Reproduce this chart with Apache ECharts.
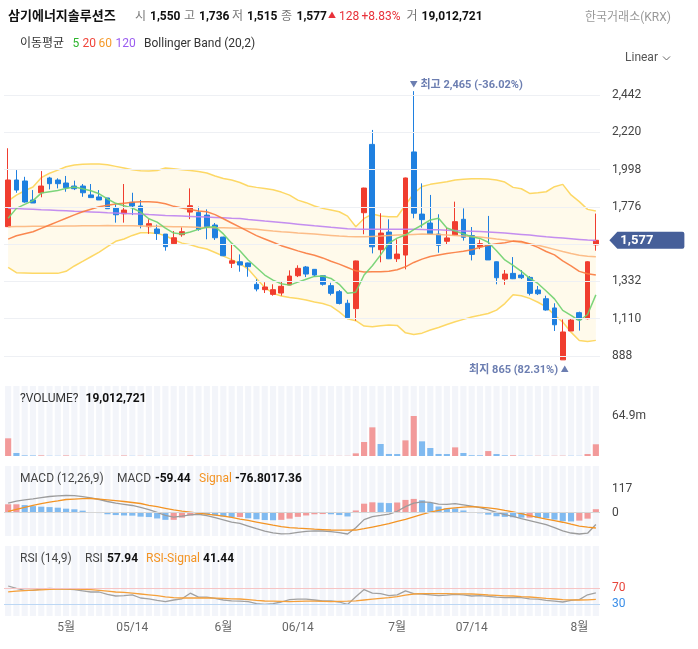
<!DOCTYPE html>
<html><head><meta charset="utf-8">
<script src="https://cdn.jsdelivr.net/npm/echarts@6.0.0/dist/echarts.min.js"></script>
<style>html,body{margin:0;padding:0;background:#fff}#c{width:698px;height:649px}</style>
</head><body><div id="c"></div>
<script>
const dates = ['2021-04-22','2021-04-23','2021-04-26','2021-04-27','2021-04-28','2021-04-29','2021-04-30',
'2021-05-03','2021-05-04','2021-05-06','2021-05-07','2021-05-10','2021-05-11','2021-05-12','2021-05-13','2021-05-14',
'2021-05-17','2021-05-18','2021-05-20','2021-05-21','2021-05-24','2021-05-25','2021-05-26','2021-05-27','2021-05-28','2021-05-31',
'2021-06-01','2021-06-02','2021-06-03','2021-06-04','2021-06-07','2021-06-08','2021-06-09','2021-06-10','2021-06-11','2021-06-14',
'2021-06-15','2021-06-16','2021-06-17','2021-06-18','2021-06-21','2021-06-22','2021-06-23','2021-06-24','2021-06-25','2021-06-28','2021-06-29',
'2021-07-01','2021-07-02','2021-07-05','2021-07-06','2021-07-07','2021-07-08','2021-07-09','2021-07-12','2021-07-13','2021-07-14',
'2021-07-15','2021-07-16','2021-07-19','2021-07-20','2021-07-21','2021-07-22','2021-07-23','2021-07-26','2021-07-27','2021-07-28','2021-07-29','2021-07-30',
'2021-08-02','2021-08-03','2021-08-04'];
const xLabelMap = {'2021-05-03':'5월','2021-05-14':'05/14','2021-06-01':'6월','2021-06-14':'06/14','2021-07-01':'7월','2021-07-14':'07/14','2021-08-02':'8월'};

const openP = [1658,1936,1930,1817,1860,1948,1936,1918,1900,1900,1847,1835,1829,1769,1735,1803,1781,1658,1644,1614,
1557,1610,1745,1743,1727,1668,1596,1440,1449,1442,1315,1283,1255,1263,1311,1366,1418,1404,1366,1307,
1271,1202,1170,1741,2148,1521,1626,1467,1489,2103,1733,1680,1614,1571,1608,1702,1605,1539,1549,1449,
1346,1380,1370,1356,1281,1229,1174,865,1037,1146,1110,1550];
const closeP = [1936,1876,1805,1799,1900,1914,1914,1890,1884,1860,1831,1817,1765,1729,1757,1781,1668,1676,1618,1539,
1592,1628,1783,1642,1658,1592,1485,1455,1430,1420,1287,1299,1283,1303,1364,1410,1376,1370,1315,1261,
1201,1116,1454,1888,1538,1620,1467,1495,1948,1738,1700,1614,1547,1591,1688,1595,1493,1557,1460,1354,
1376,1348,1354,1261,1259,1162,1074,1031,1102,1104,1449,1577];
const lowP = [1658,1860,1801,1799,1833,1880,1886,1866,1876,1836,1831,1817,1765,1682,1682,1727,1648,1615,1579,1515,
1557,1598,1703,1634,1583,1579,1483,1412,1390,1360,1273,1263,1247,1247,1311,1358,1358,1360,1307,1249,
1195,1108,1098,1613,1499,1446,1465,1448,1404,1708,1652,1612,1503,1549,1604,1575,1457,1524,1460,1315,
1312,1346,1346,1249,1251,1158,1037,865,1037,1039,1106,1515];
const highP = [2125,1995,1955,1876,1989,1955,1946,1960,1932,1912,1912,1876,1829,1791,1912,1860,1817,1702,1670,1614,
1632,1654,1886,1777,1761,1680,1598,1549,1493,1444,1345,1327,1315,1329,1398,1428,1424,1406,1368,1324,
1281,1223,1456,1890,2234,1738,1702,1583,1950,2465,1916,1847,1732,1652,1807,1767,1656,1581,1722,1451,
1400,1477,1400,1364,1305,1247,1202,1106,1112,1152,1452,1736];
const volume = [28700000,4900000,1000000,900000,1000000,400000,300000,900000,300000,300000,
250000,200000,200000,200000,800000,300000,300000,250000,200000,200000,
200000,200000,800000,300000,300000,250000,250000,200000,200000,200000,
250000,200000,200000,200000,250000,300000,250000,200000,200000,200000,
250000,300000,4300000,22700000,46500000,19500000,3300000,3200000,25400000,64900000,
23800000,13000000,3300000,3200000,14000000,4900000,1200000,1100000,8000000,3200000,
1100000,1200000,500000,400000,400000,300000,400000,500000,400000,300000,
3200000,19012721];

const ma5 = [1708,1767,1791,1813,1858,1866,1874,1886,1894,1884,1872,1854,1823,1797,1783,1769,1745,1705,1685,1650,
1620,1615,1626,1642,1655,1658,1615,1560,1515,1460,1415,1370,1340,1318,1310,1328,1345,1362,1364,1350,
1315,1262,1268,1370,1425,1490,1560,1590,1608,1640,1668,1698,1708,1650,1632,1615,1598,1588,1565,1515,
1460,1428,1392,1352,1320,1275,1228,1160,1130,1098,1135,1252];
const ma20 = [1584,1604,1616,1628,1648,1668,1688,1708,1728,1747,1762,1777,1786,1793,1798,1803,1806,1806,1803,1795,
1779,1769,1760,1752,1747,1730,1705,1680,1655,1630,1605,1585,1565,1545,1530,1514,1500,1488,1472,1452,
1435,1415,1395,1388,1389,1390,1392,1402,1419,1445,1465,1480,1490,1498,1505,1512,1520,1535,1548,1556,
1562,1572,1570,1555,1535,1510,1490,1455,1425,1392,1378,1370];
const ma60 = [1658,1659,1659,1660,1660,1661,1661,1662,1662,1663,1664,1664,1665,1664,1663,1663,1662,1661,1660,1659,
1658,1657,1656,1654,1653,1652,1651,1650,1648,1646,1642,1637,1632,1628,1625,1621,1618,1614,1610,1606,
1602,1599,1598,1598,1600,1602,1605,1608,1610,1612,1614,1613,1611,1609,1606,1603,1600,1596,1591,1584,
1578,1571,1564,1556,1547,1536,1523,1510,1498,1488,1482,1479];
const ma120 = [1768,1766,1764,1762,1759,1757,1755,1753,1750,1748,1746,1744,1741,1739,1737,1735,1733,1730,1728,1725,
1723,1721,1719,1717,1715,1713,1711,1708,1706,1701,1697,1692,1688,1683,1678,1673,1668,1663,1659,1654,
1650,1646,1644,1643,1643,1643,1643,1643,1642,1642,1641,1640,1639,1637,1635,1633,1631,1629,1627,1624,
1620,1616,1612,1608,1603,1598,1594,1590,1586,1582,1578,1575];
const bbUpper = [1811,1846,1872,1894,1950,1976,1995,2015,2025,2029,2031,2031,2027,2017,2007,1997,1991,1989,1993,2007,
2003,1997,1993,1987,1978,1960,1945,1936,1921,1900,1892,1886,1878,1864,1846,1816,1801,1781,1767,1757,
1747,1721,1658,1707,1733,1721,1717,1717,1787,1856,1897,1910,1918,1926,1936,1940,1944,1944,1942,1936,
1924,1892,1884,1856,1860,1866,1896,1910,1847,1807,1761,1751];
const bbLower = [1416,1384,1382,1380,1380,1380,1380,1392,1424,1451,1479,1507,1539,1571,1585,1606,1622,1622,1618,1604,
1580,1560,1550,1536,1525,1504,1483,1462,1436,1406,1350,1296,1261,1245,1237,1231,1221,1209,1201,1185,
1151,1110,1098,1066,1062,1068,1072,1070,1026,1016,1024,1043,1058,1076,1092,1106,1120,1130,1141,1161,
1200,1253,1247,1231,1208,1180,1132,1090,1030,980,975,981];

const macdLine = [48,58,64,69,75,81,84,86,85,80,74,66,56,48,42,36,26,15,1,-14,
-22,-17,-11,-8,-15,-25,-36,-47,-54,-67,-80,-92,-101,-106,-105,-99,-94,-91,-92,-95,
-100,-107,-76,-35,-20,-14,-7,7,30,48,54,52,43,42,45,39,33,25,14,1,
-10,-19,-30,-40,-50,-60,-75,-91,-102,-107,-103,-59.44];
const signalLine = [6,16,26,36,45,53,59,66,68,70,71,68,64,60,56,51,46,37,30,22,
14,8,3,-2,-7,-12,-17,-24,-32,-39,-47,-55,-63,-70,-75,-78,-80,-83,-85,-87,
-88,-88,-87,-80,-72,-64,-55,-44,-34,-21,-8,3,12,20,24,28,30,28,24,19,
11,4,-5,-15,-24,-32,-40,-48,-58,-67,-73,-76.80];
const rsiLine = [75,69,64,64,67,69,68,67,66,63,60,60,54,50,51,53,45,43,39,36,
40,43,57,47,47,44,40,38,37,36,31,29,31,35,41,42,42,40,38,38,
35,29,48,66,57,56,51,53,63,56,55,53,51,52,54,53,50,51,49,47,
46,46,46,43,42,39,37,35,39,41,53,57.94];
const rsiSignal = [60.5,62,63.5,64.5,65.5,66.5,67,67,67,66.5,66,64,62,60,59,57,55,53,51,48,
46,45,45,45,45,44.5,44,43,42.5,41,39,37.5,37,36.5,36,36.5,37,37,36.5,36,
36.5,37,38,40,42,44,46,48.5,52,55,56,56,56,56,55.5,55.5,55,54,52.5,51.5,
50.5,50,48.5,47.5,46,44,42.5,41,40.5,40,40.5,41.44];

const priceTicks = [888,1110,1332,1554,1776,1998,2220,2442];
const priceLabels = [888,1110,1332,1776,1998,2220,2442];
const macdLabels = [0,117];
const rsiLevels = [30,70];
const stockName = '삼기에너지솔루션즈';
const exchangeName = '한국거래소(KRX)';

// ---------- derived ----------
const FONT = "Roboto, 'Noto Sans CJK KR', sans-serif";
const n = dates.length, last = n - 1;
const fmt = v => Math.round(v).toLocaleString('en-US');
const RED = '#f03d2f', BLUE = '#1f80e0';
const candleData = dates.map((d,i)=>[openP[i], closeP[i], lowP[i], highP[i]]);
const bandWidth = bbUpper.map((u,i)=>u - bbLower[i]);
const volData = volume.map((v,i)=>({value:v, itemStyle:{color: (i===0 || v>=volume[i-1]) ? '#f29a9a' : '#80baf0'}}));
const hist = macdLine.map((m,i)=>+(m - signalLine[i]).toFixed(2));
const histData = hist.map((h,i)=>({value:h, itemStyle:{color: (i===0 || h>=hist[i-1]) ? '#f29a9a' : '#80baf0'}}));
const volMax = Math.max(...volume);
let hiIdx = 0, loIdx = 0;
highP.forEach((v,i)=>{ if(v>highP[hiIdx]) hiIdx=i; });
lowP.forEach((v,i)=>{ if(v<lowP[loIdx]) loIdx=i; });
const lastClose = closeP[last], prevClose = closeP[last-1];
const chg = lastClose - prevClose, chgPct = (chg/prevClose*100).toFixed(2);
const hiPct = ((lastClose-highP[hiIdx])/highP[hiIdx]*100).toFixed(2);
const loPct = ((lastClose-lowP[loIdx])/lowP[loIdx]*100).toFixed(2);

const L = 4, R = 98;
const grids = [
  {left:L, right:R, top:72, height:306, outerBoundsMode:'none'},
  {left:L, right:R, top:386, height:70, outerBoundsMode:'none'},
  {left:L, right:R, top:466, height:70, outerBoundsMode:'none'},
  {left:L, right:R, top:546, height:70, outerBoundsMode:'none'}
];
const xAxes = grids.map((g,i)=>({
  type:'category', gridIndex:i, data:dates, boundaryGap:true,
  axisLine:{show:false}, axisTick:{show:false}, splitLine:{show:false},
  axisLabel: i===3 ? {
    show:true, interval:(idx,val)=>!!xLabelMap[val], formatter:v=>xLabelMap[v]||'',
    color:'#666', fontSize:12, fontFamily:FONT, margin:6
  } : {show:false}
}));
const yBase = {type:'value', position:'right', axisLine:{show:false}, axisTick:{show:false}, splitLine:{show:false}};
const yAxes = [
  Object.assign({}, yBase, {gridIndex:0, min:757, max:2579,
    axisLabel:{customValues:priceLabels, formatter:v=>fmt(v), color:'#444', fontSize:12, fontFamily:FONT, margin:12}}),
  Object.assign({}, yBase, {gridIndex:1, min:0, max:volMax*70/40,
    axisLabel:{customValues:[volMax], formatter:v=>(v/1e6).toFixed(1)+'m', color:'#444', fontSize:12, fontFamily:FONT, margin:12}}),
  Object.assign({}, yBase, {gridIndex:2, min:-117, max:234,
    axisLabel:{customValues:macdLabels, formatter:v=>String(v), color:'#444', fontSize:12, fontFamily:FONT, margin:12}}),
  Object.assign({}, yBase, {gridIndex:3, min:0, max:175,
    axisLabel:{customValues:rsiLevels, formatter:v=> v===70 ? '{r|70}' : '{b|30}', fontSize:12, fontFamily:FONT, margin:12,
      rich:{r:{color:'#e8443a', fontSize:12, fontFamily:FONT}, b:{color:'#3a8ee8', fontSize:12, fontFamily:FONT}}}})
];

function txt(x, y, text, size, color, weight){
  return {type:'text', x:x, y:y, silent:true, z:100,
    style:{text:text, fill:color||'#333', font:(weight||'normal')+' '+(size||12)+'px '+FONT,
      verticalAlign:'middle', textVerticalAlign:'middle'}};
}
const graphics = [
  txt(8, 17, stockName, 13, '#111', 'bold'),
  txt(135, 17, '시', 12, '#777'), txt(150, 17, fmt(openP[last]), 12, '#111', 'bold'),
  txt(184, 17, '고', 12, '#777'), txt(199, 17, fmt(highP[last]), 12, '#111', 'bold'),
  txt(232, 17, '저', 12, '#777'), txt(247, 17, fmt(lowP[last]), 12, '#111', 'bold'),
  txt(281, 17, '종', 12, '#777'), txt(296.5, 17, fmt(lastClose), 12, '#111', 'bold'),
  txt(328, 16, '▲', 8, '#e8313a'), txt(339, 17, fmt(chg), 12, '#e8313a'), txt(361.5, 17, '+'+chgPct+'%', 12, '#e8313a'),
  txt(406.5, 17, '거', 12, '#777'), txt(421.6, 17, fmt(volume[last]), 12, '#111', 'bold'),
  txt(585, 18, exchangeName, 12, '#999'),
  txt(20, 44, '이동평균', 12, '#333'),
  txt(72.5, 44, '5', 12, '#2db52d'), txt(82.5, 44, '20', 12, '#f0443a'),
  txt(98.5, 44, '60', 12, '#f59a2a'), txt(115.5, 44, '120', 12, '#9a5cf0'),
  txt(144, 44, 'Bollinger Band (20,2)', 12, '#333'),
  txt(625, 58, 'Linear', 12, '#555'),
  {type:'polyline', silent:true, z:100, shape:{points:[[663,56.5],[666.5,60],[670,56.5]]}, style:{stroke:'#666', lineWidth:1, fill:null}},
  txt(20, 399, '?VOLUME?', 12, '#333'), txt(85.5, 399, fmt(volume[last]), 12, '#111', 'bold'),
  txt(20, 479, 'MACD (12,26,9)', 12, '#444'), txt(117, 479, 'MACD', 12, '#444'),
  txt(155, 479, macdLine[last].toFixed(2), 12, '#111', 'bold'),
  txt(199, 479, 'Signal', 12, '#f39424'),
  txt(235, 479, signalLine[last].toFixed(2) + hist[last].toFixed(2), 12, '#111', 'bold'),
  txt(20, 559, 'RSI (14,9)', 12, '#444'), txt(85, 559, 'RSI', 12, '#444'),
  txt(107, 559, rsiLine[last].toFixed(2), 12, '#111', 'bold'),
  txt(146, 559, 'RSI-Signal', 12, '#f39424'),
  txt(203, 559, rsiSignal[last].toFixed(2), 12, '#111', 'bold')
];

const lineS = (name, data, color, xi, yi, w) => ({
  name:name, type:'line', xAxisIndex:xi||0, yAxisIndex:yi||0, data:data, symbol:'none', silent:true,
  lineStyle:{color:color, width:w||1.5}, z:4
});
const markLbl = {fontFamily:FONT, fontSize:11, fontWeight:'bold', color:'#6c7eb1'};
const BG = '#f3f5fa';

const series = [
  {name:'bbLower', type:'line', data:bbLower, stack:'bb', symbol:'none', silent:true,
    lineStyle:{color:'#fdd866', width:1.5}, z:1,
    markLine:{silent:true, symbol:['none','none'], label:{show:false}, animation:false,
      lineStyle:{color:'#eef0f4', width:1, type:'solid'}, data:priceTicks.map(v=>({yAxis:v}))}},
  {name:'bbBand', type:'line', data:bandWidth, stack:'bb', symbol:'none', silent:true,
    lineStyle:{color:'#fdd866', width:1.5}, areaStyle:{color:'rgba(253,234,165,0.32)'}, z:1},
  {name:'candle', type:'candlestick', data:candleData, barWidth:'64%', silent:true, z:3,
    itemStyle:{color:RED, color0:BLUE, borderColor:RED, borderColor0:BLUE, borderWidth:1},
    markPoint:{silent:true, animation:false, data:[
      {coord:[dates[hiIdx], highP[hiIdx]], symbol:'circle', symbolSize:1, itemStyle:{color:'rgba(0,0,0,0)'},
        label:Object.assign({show:true, position:'inside', align:'left', verticalAlign:'middle', offset:[-4,-6],
          formatter:()=>'{a|▼} 최고 '+fmt(highP[hiIdx])+' ('+hiPct+'%)', rich:{a:{fontSize:8, color:'#6c7eb1'}}}, markLbl)},
      {coord:[dates[loIdx], lowP[loIdx]], symbol:'circle', symbolSize:1, itemStyle:{color:'rgba(0,0,0,0)'},
        label:Object.assign({show:true, position:'inside', align:'right', verticalAlign:'middle', offset:[6,10],
          formatter:()=>'최지 '+fmt(lowP[loIdx])+' ('+loPct+'%) {a|▲}', rich:{a:{fontSize:8, color:'#6c7eb1'}}}, markLbl)},
      {coord:[dates[last], lastClose], symbol:'path://M0,8.5 L8,0 L73,0 Q75,0 75,2 L75,15 Q75,17 73,17 L8,17 Z',
        symbolSize:[75,17], symbolOffset:[51,0], symbolKeepAspect:false, itemStyle:{color:'#465f99'},
        label:{show:true, position:'inside', offset:[-10,0], color:'#fff', fontSize:13, fontWeight:'bold', fontFamily:FONT,
          formatter:()=>fmt(lastClose)}}
    ]}},
  lineS('MA120', ma120, 'rgba(190,130,240,0.9)'),
  lineS('MA60', ma60, 'rgba(252,182,125,0.9)'),
  lineS('MA20', ma20, 'rgba(249,122,62,0.9)'),
  lineS('MA5', ma5, 'rgba(110,208,110,0.9)'),
  {name:'volume', type:'bar', xAxisIndex:1, yAxisIndex:1, data:volData, barWidth:'74%', silent:true,
    showBackground:true, backgroundStyle:{color:BG}},
  {name:'hist', type:'bar', xAxisIndex:2, yAxisIndex:2, data:histData, barWidth:'74%', silent:true,
    showBackground:true, backgroundStyle:{color:BG},
    markLine:{silent:true, symbol:['none','none'], label:{show:false}, animation:false,
      lineStyle:{color:'#d6d6d6', width:1, type:'solid'}, data:[{yAxis:0}]}},
  lineS('MACD', macdLine, '#9c9c9c', 2, 2, 1.3),
  lineS('Signal', signalLine, '#f39424', 2, 2, 1.3),
  {name:'rsiBg', type:'bar', xAxisIndex:3, yAxisIndex:3, data:rsiLine, barWidth:'74%', silent:true,
    itemStyle:{color:'rgba(0,0,0,0)'}, showBackground:true, backgroundStyle:{color:BG}, z:0},
  Object.assign(lineS('RSI', rsiLine, '#a2a2a2', 3, 3, 1.3), {
    markLine:{silent:true, symbol:['none','none'], label:{show:false}, animation:false,
      data:[{yAxis:70, lineStyle:{color:'#f6c4c4', width:1, type:'solid'}},
            {yAxis:30, lineStyle:{color:'#bcd7f4', width:1, type:'solid'}}]}}),
  lineS('RSI-Signal', rsiSignal, '#f5a03a', 3, 3, 1.3)
];

const chart = echarts.init(document.getElementById('c'));
chart.setOption({
  animation:false, backgroundColor:'#fff', textStyle:{fontFamily:FONT},
  grid:grids, xAxis:xAxes, yAxis:yAxes, graphic:graphics, series:series
});
</script>
</body></html>
